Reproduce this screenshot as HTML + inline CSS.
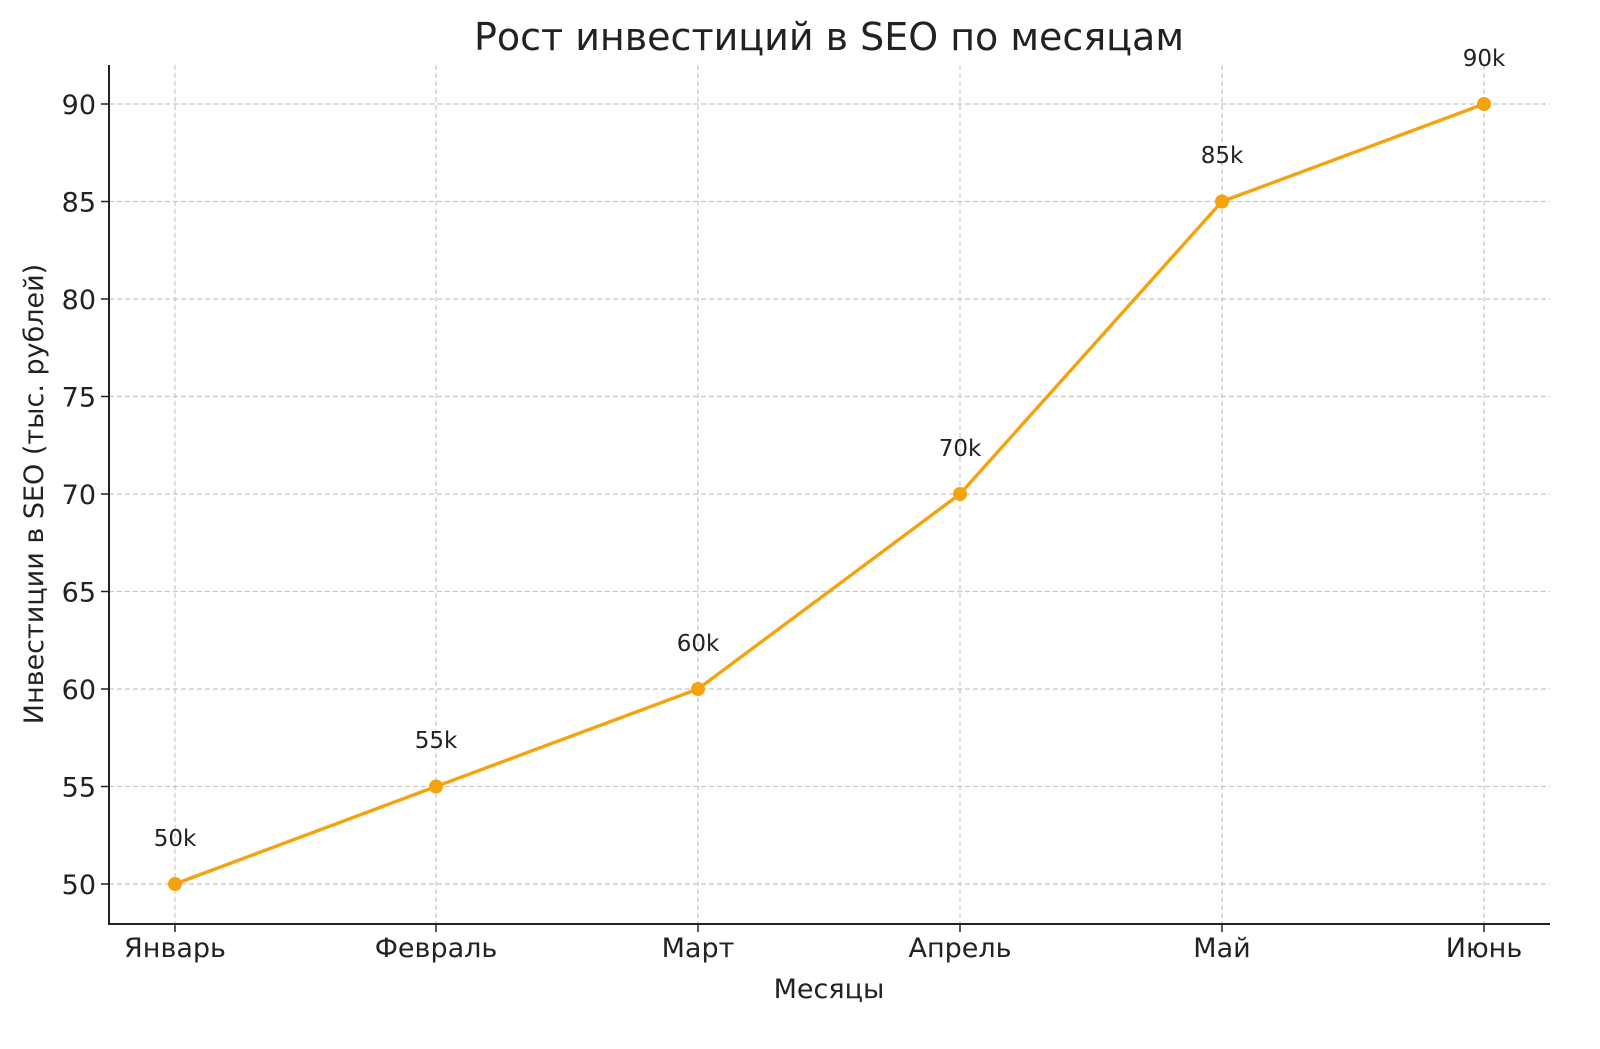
<!DOCTYPE html>
<html><head><meta charset="utf-8"><style>body{margin:0;background:#fff}</style></head><body>
<svg width="1600" height="1044" xmlns="http://www.w3.org/2000/svg" font-family="DejaVu Sans, Liberation Sans, sans-serif" fill="#222">
<rect width="1600" height="1044" fill="#fff"/>
<g stroke="#c8c8c8" stroke-width="1.2" stroke-dasharray="5,3">
<line x1="175" y1="65" x2="175" y2="924"/><line x1="436" y1="65" x2="436" y2="924"/><line x1="698" y1="65" x2="698" y2="924"/><line x1="960" y1="65" x2="960" y2="924"/><line x1="1222" y1="65" x2="1222" y2="924"/><line x1="1484" y1="65" x2="1484" y2="924"/>
<line x1="109" y1="104" x2="1550" y2="104"/><line x1="109" y1="201.5" x2="1550" y2="201.5"/><line x1="109" y1="299" x2="1550" y2="299"/><line x1="109" y1="396.5" x2="1550" y2="396.5"/><line x1="109" y1="494" x2="1550" y2="494"/><line x1="109" y1="591.5" x2="1550" y2="591.5"/><line x1="109" y1="689" x2="1550" y2="689"/><line x1="109" y1="786.5" x2="1550" y2="786.5"/><line x1="109" y1="884" x2="1550" y2="884"/>
</g>
<g stroke="#222" stroke-width="2"><line x1="109" y1="65" x2="109" y2="925"/><line x1="108" y1="924" x2="1550" y2="924"/></g>
<g stroke="#222" stroke-width="1.5">
<line x1="101" y1="104" x2="109" y2="104"/><line x1="101" y1="201.5" x2="109" y2="201.5"/><line x1="101" y1="299" x2="109" y2="299"/><line x1="101" y1="396.5" x2="109" y2="396.5"/><line x1="101" y1="494" x2="109" y2="494"/><line x1="101" y1="591.5" x2="109" y2="591.5"/><line x1="101" y1="689" x2="109" y2="689"/><line x1="101" y1="786.5" x2="109" y2="786.5"/><line x1="101" y1="884" x2="109" y2="884"/>
<line x1="175" y1="924" x2="175" y2="932"/><line x1="436" y1="924" x2="436" y2="932"/><line x1="698" y1="924" x2="698" y2="932"/><line x1="960" y1="924" x2="960" y2="932"/><line x1="1222" y1="924" x2="1222" y2="932"/><line x1="1484" y1="924" x2="1484" y2="932"/>
</g>
<g font-size="27" text-anchor="end">
<text x="96" y="114">90</text><text x="96" y="211.5">85</text><text x="96" y="309">80</text><text x="96" y="406.5">75</text><text x="96" y="504">70</text><text x="96" y="601.5">65</text><text x="96" y="699">60</text><text x="96" y="796.5">55</text><text x="96" y="894">50</text>
</g>
<g font-size="27" text-anchor="middle">
<text x="175" y="957">Январь</text><text x="436" y="957">Февраль</text><text x="698" y="957">Март</text><text x="960" y="957">Апрель</text><text x="1222" y="957">Май</text><text x="1484" y="957">Июнь</text>
<text x="829" y="998">Месяцы</text>
<text x="829" y="50" font-size="38">Рост инвестиций в SEO по месяцам</text>
<text transform="translate(43,494) rotate(-90)">Инвестиции в SEO (тыс. рублей)</text>
</g>
<polyline points="175,884 436,786.5 698,689 960,494 1222,201.5 1484,104" fill="none" stroke="#F5A20F" stroke-width="3.4"/>
<g fill="#F5A20F"><circle cx="175" cy="884" r="7"/><circle cx="436" cy="786.5" r="7"/><circle cx="698" cy="689" r="7"/><circle cx="960" cy="494" r="7"/><circle cx="1222" cy="201.5" r="7"/><circle cx="1484" cy="104" r="7"/></g>
<g font-size="23" text-anchor="middle">
<text x="175" y="846">50k</text><text x="436" y="748">55k</text><text x="698" y="651">60k</text><text x="960" y="456">70k</text><text x="1222" y="163">85k</text><text x="1484" y="66">90k</text>
</g>
</svg>
</body></html>
